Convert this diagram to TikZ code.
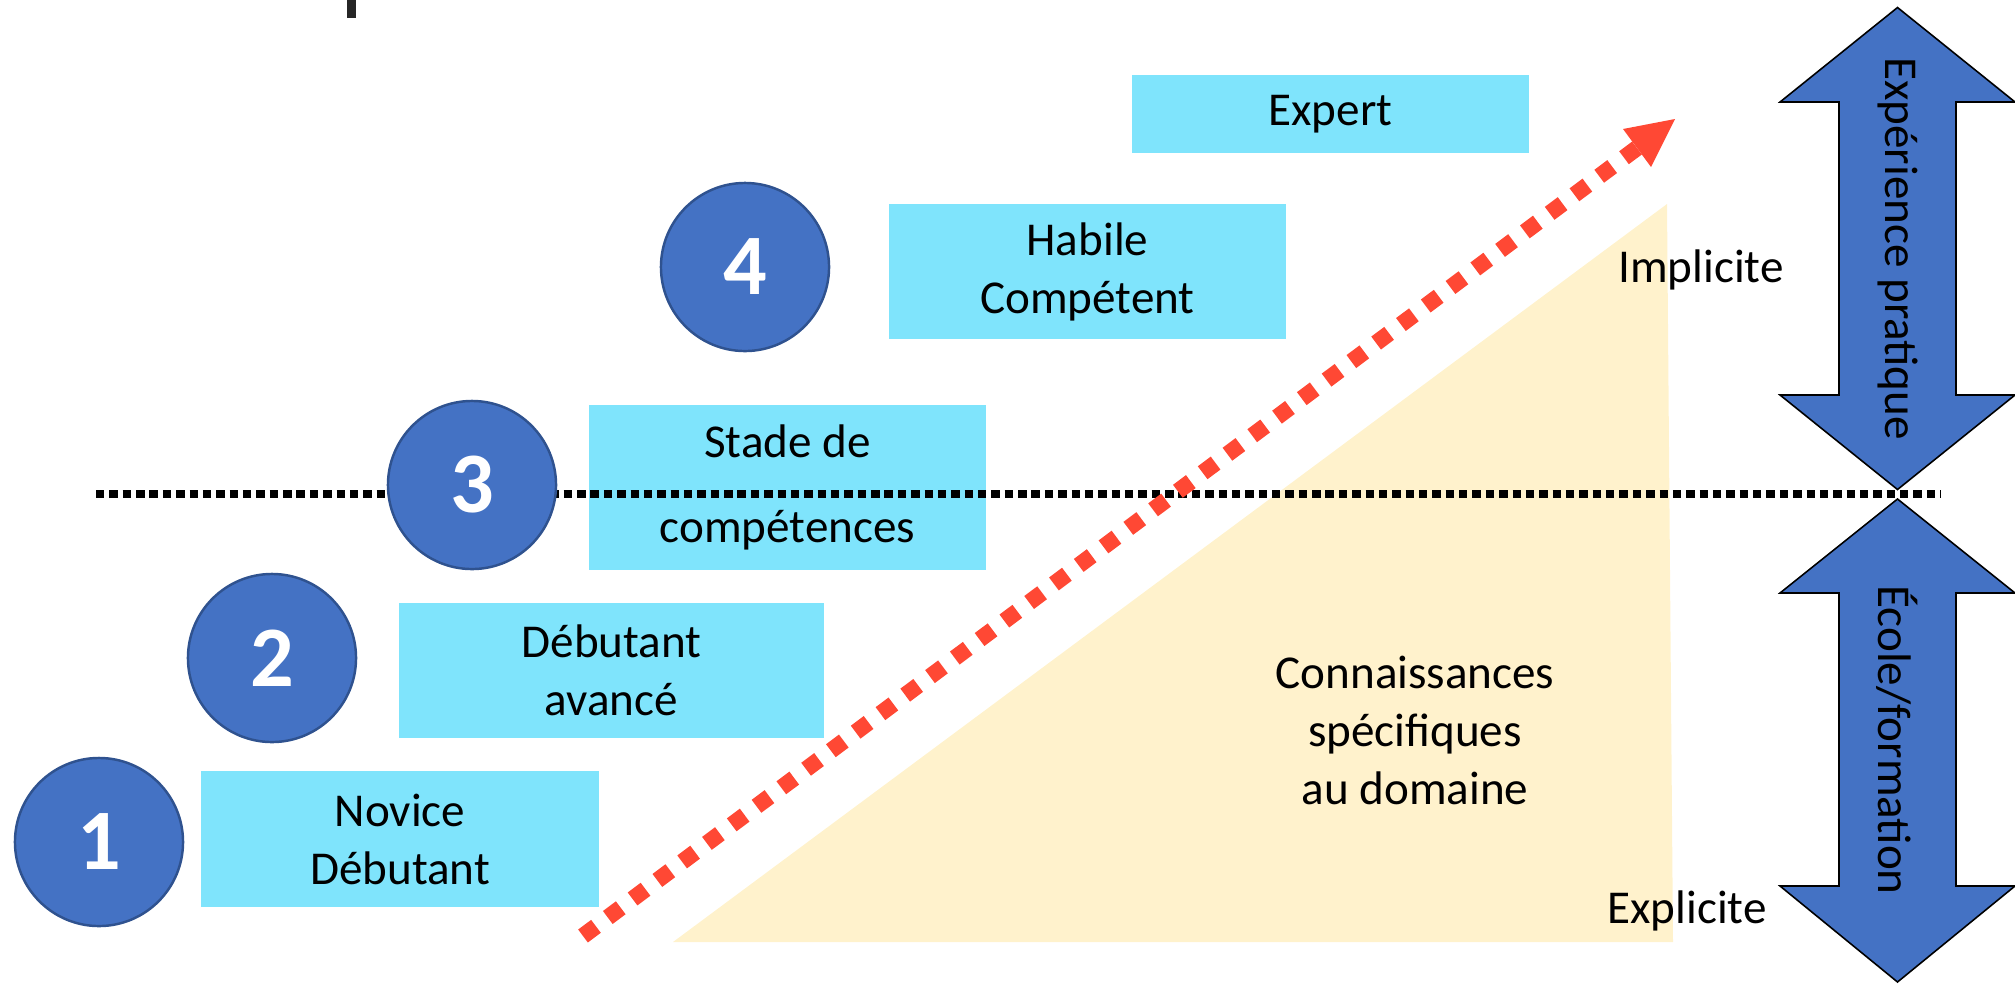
\documentclass[tikz,border=0pt]{standalone}
\usepackage{fontspec}
\setmainfont{Carlito}
\usetikzlibrary{arrows.meta}
\definecolor{boxblue}{RGB}{127,228,252}
\definecolor{circblue}{RGB}{68,114,196}
\definecolor{circedge}{RGB}{47,82,143}
\definecolor{tri}{RGB}{255,242,204}
\definecolor{redarr}{RGB}{255,72,52}
\definecolor{titlegray}{RGB}{38,38,38}
\begin{document}
\begin{tikzpicture}[x=0.01cm,y=-0.01cm,
  stagebox/.style={fill=boxblue, inner sep=0pt, align=center, minimum width=3.97cm, minimum height=1.36cm, font=\fontsize{13.4pt}{16.5pt}\selectfont},
  num/.style={circle, fill=circblue, draw=circedge, line width=0.7pt, minimum size=1.68cm, inner sep=0pt, text=white, font=\fontsize{24.5pt}{28pt}\selectfont\bfseries},
  lbl/.style={font=\fontsize{13.4pt}{16.5pt}\selectfont, inner sep=0pt, align=center},
  dblarrow/.style={fill=circblue, draw=black, line width=0.45pt},
  dotline/.style={black, line width=2.36pt, dash pattern=on 2.4pt off 1.4pt},
  redline/.style={redarr, line width=4.6pt, dash pattern=on 4.6pt off 4.2pt}
]
\useasboundingbox (0,0) rectangle (2015,984);

% title fragment (cut off)
\fill[titlegray] (347,0) rectangle (356,18);

% knowledge triangle
\fill[tri] (673,942) -- (1673,942) -- (1667,204) -- cycle;
\node[lbl] (conn) at (1415,730) {Connaissances\\spécifiques\\au domaine};
\node[lbl, anchor=base] (impl) at (1701,282) {Implicite};
\node[lbl, anchor=base] (expl) at (1687,923) {Explicite};

% stage boxes
\node[stagebox] (b1) at (400,839) {Novice\\Débutant};
\node[stagebox, minimum width=4.25cm, minimum height=1.35cm] (b2) at (611.5,670.5) {Débutant\\avancé};
\node[stagebox, minimum height=1.65cm] (b3) at (787.5,487.5) {Stade de\\[7.7pt]compétences};
\node[stagebox, minimum height=1.35cm] (b4) at (1087.5,271.5) {Habile\\Compétent};
\node[stagebox, minimum height=0.78cm] (b5) at (1330.5,114) {Expert};

% right double arrows
\draw[dblarrow] (1897.5,7.5) -- (2015,102) -- (1956,102) -- (1956,395) -- (2015,395) -- (1897.5,489.5) -- (1780,395) -- (1839,395) -- (1839,102) -- (1780,102) -- cycle;
\draw[dblarrow] (1897.5,499) -- (2015,593) -- (1956,593) -- (1956,886) -- (2015,886) -- (1897.5,982) -- (1780,886) -- (1839,886) -- (1839,593) -- (1780,593) -- cycle;
\node[lbl, rotate=-90] (expp) at (1897.5,248.5) {Expérience pratique};
\node[lbl, rotate=-90] (ecole) at (1897.5,740) {École/formation};

% dotted separator
\coordinate (dl) at (96,494);
\coordinate (dr) at (1941,494);
\draw[dotline] (dl) -- (dr);

% red progression arrow
\coordinate (rt) at (583,936);
\coordinate (rb) at (1637,148);
\coordinate (rh) at (1675,119);
\draw[redline] (rt) -- (rb);
\fill[redarr] (rh) -- (1623,129) -- (1651,167) -- cycle;

% numbered circles
\node[num] (c1) at (99,842) {1};
\node[num] (c2) at (272,658) {2};
\node[num] (c3) at (472,485) {3};
\node[num] (c4) at (745,267) {4};
\end{tikzpicture}
\end{document}
